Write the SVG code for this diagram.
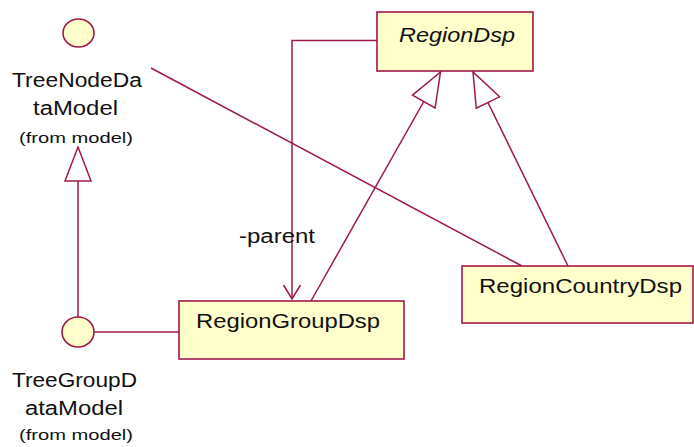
<svg xmlns="http://www.w3.org/2000/svg" width="694" height="447" viewBox="0 0 694 447">
  <style>
    .cls { fill: #ffffcc; stroke: #a01848; stroke-width: 1.6; }
    .ifc { fill: #ffffcc; stroke: #a01848; stroke-width: 1.6; }
    .edge { fill: none; stroke: #a01848; stroke-width: 1.5; }
    .lbl { font-family: "Liberation Sans", Arial, sans-serif; font-size: 20px; fill: #111; }
    .small { font-family: "Liberation Sans", Arial, sans-serif; font-size: 15px; fill: #111; }
  </style>
  <defs>
    <!-- hollow triangle for generalization / realization -->
    <marker id="gen" markerUnits="userSpaceOnUse" viewBox="0 -14 36 28" refX="35" refY="0" markerWidth="36" markerHeight="28" orient="auto">
      <path d="M1,-13 L35,0 L1,13 Z" fill="#ffffff" stroke="#a01848" stroke-width="1.5"/>
    </marker>
    <!-- open arrowhead for navigable association -->
    <marker id="open" markerUnits="userSpaceOnUse" viewBox="0 -10 16 20" refX="15" refY="0" markerWidth="16" markerHeight="20" orient="auto">
      <path d="M1,-8.5 L15,0 L1,8.5" fill="none" stroke="#a01848" stroke-width="1.5"/>
    </marker>
  </defs>

  <g id="connectors">
    <!-- association from TreeNodeDataModel to RegionCountryDsp -->
    <line class="edge" x1="151" y1="68" x2="522" y2="266"/>
    <!-- realization: TreeGroupDataModel to TreeNodeDataModel -->
    <line class="edge" x1="78" y1="317" x2="78" y2="147" marker-end="url(#gen)"/>
    <!-- lollipop link -->
    <line class="edge" x1="94" y1="332" x2="179" y2="332"/>
    <!-- -parent association -->
    <polyline class="edge" points="377,40.5 292,40.5 292,299" marker-end="url(#open)"/>
    <text class="lbl" x="239" y="243" textLength="76" lengthAdjust="spacingAndGlyphs">-parent</text>
    <!-- generalizations into RegionDsp -->
    <line class="edge" x1="311" y1="301" x2="440.5" y2="72" marker-end="url(#gen)"/>
    <line class="edge" x1="568" y1="266" x2="473" y2="72" marker-end="url(#gen)"/>
  </g>

  <g id="RegionDsp">
    <rect class="cls" x="377" y="12" width="156" height="59"/>
    <text class="lbl" x="399" y="42" font-style="italic" textLength="116" lengthAdjust="spacingAndGlyphs">RegionDsp</text>
  </g>

  <g id="RegionGroupDsp">
    <rect class="cls" x="179" y="301" width="225" height="58"/>
    <text class="lbl" x="196" y="328" textLength="184" lengthAdjust="spacingAndGlyphs">RegionGroupDsp</text>
  </g>

  <g id="RegionCountryDsp">
    <rect class="cls" x="462" y="266" width="231" height="57"/>
    <text class="lbl" x="479" y="293" textLength="203" lengthAdjust="spacingAndGlyphs">RegionCountryDsp</text>
  </g>

  <g id="TreeNodeDataModel">
    <ellipse class="ifc" cx="78.5" cy="33" rx="15.5" ry="14"/>
    <text class="lbl" x="12" y="87" textLength="130" lengthAdjust="spacingAndGlyphs">TreeNodeDa</text>
    <text class="lbl" x="33" y="115" textLength="85" lengthAdjust="spacingAndGlyphs">taModel</text>
    <text class="small" x="19" y="143" textLength="114" lengthAdjust="spacingAndGlyphs">(from model)</text>
  </g>

  <g id="TreeGroupDataModel">
    <ellipse class="ifc" cx="78" cy="332" rx="16" ry="15"/>
    <text class="lbl" x="12" y="387" textLength="125" lengthAdjust="spacingAndGlyphs">TreeGroupD</text>
    <text class="lbl" x="25" y="415" textLength="98" lengthAdjust="spacingAndGlyphs">ataModel</text>
    <text class="small" x="19" y="440" textLength="114" lengthAdjust="spacingAndGlyphs">(from model)</text>
  </g>
</svg>
